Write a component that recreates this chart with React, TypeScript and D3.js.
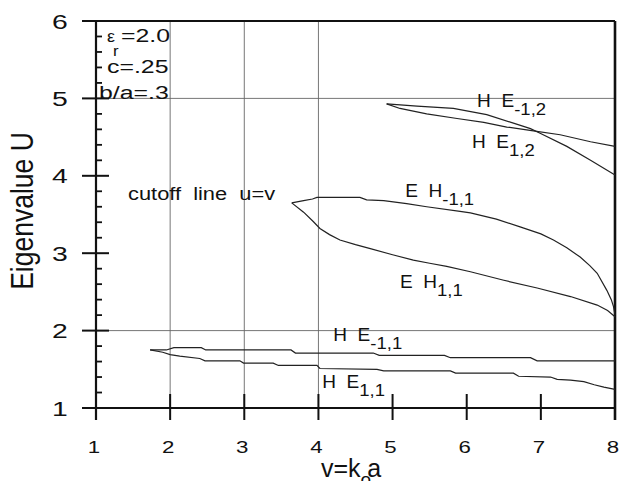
import React from "react";
import * as d3 from "d3";

const W = 622;
const H = 481;

// axis ticks and grid
const xTicks = [1, 2, 3, 4, 5, 6, 7, 8];
const yTicks = [1, 2, 3, 4, 5, 6];
const xGrid = [2, 3, 4];
const yGrid = [2, 5];

// curves as [v, U]
const ehMinus11 = [
  [3.64, 3.65], [3.8, 3.68], [3.92, 3.7], [3.98, 3.72], [4.56, 3.72], [4.65, 3.69],
  [4.88, 3.68], [5.19, 3.64], [5.46, 3.6], [5.91, 3.54], [6.05, 3.52], [6.4, 3.44],
  [6.72, 3.34], [7.0, 3.25], [7.17, 3.17], [7.35, 3.07], [7.53, 2.95], [7.66, 2.84],
  [7.76, 2.74], [7.89, 2.52], [7.95, 2.4], [7.98, 2.31], [8.0, 2.2],
];
const eh11 = [
  [3.64, 3.65], [3.8, 3.53], [3.93, 3.41], [4.02, 3.32], [4.15, 3.24], [4.29, 3.17],
  [4.5, 3.11], [4.7, 3.06], [5.0, 2.98], [5.28, 2.91], [5.5, 2.87], [5.73, 2.83],
  [6.05, 2.76], [6.5, 2.65], [6.95, 2.55], [7.4, 2.44], [7.76, 2.33], [7.9, 2.26],
  [8.0, 2.18],
];
const he12 = [
  [4.92, 4.93], [5.33, 4.9], [5.82, 4.87], [6.27, 4.79], [6.63, 4.68], [6.86, 4.61],
  [6.99, 4.55], [7.35, 4.38], [7.67, 4.2], [8.0, 4.01],
];
const heMinus12 = [
  [4.92, 4.93], [5.1, 4.87], [5.46, 4.8], [5.87, 4.74], [6.23, 4.69], [6.54, 4.63],
  [6.9, 4.58], [7.26, 4.53], [7.67, 4.44], [8.0, 4.38],
];
const heMinus11 = [
  [1.73, 1.75], [1.95, 1.75], [2.05, 1.78], [2.42, 1.78], [2.48, 1.75], [3.63, 1.75],
  [3.69, 1.71], [4.74, 1.71], [4.82, 1.68], [5.7, 1.68], [5.78, 1.65], [6.86, 1.65],
  [6.95, 1.61], [8.0, 1.61],
];
const he11 = [
  [1.73, 1.75], [1.9, 1.72], [2.0, 1.69], [2.13, 1.67], [2.4, 1.64], [2.47, 1.61],
  [2.94, 1.61], [2.99, 1.58], [3.39, 1.58], [3.46, 1.55], [3.98, 1.55], [4.02, 1.51],
  [4.79, 1.5], [4.88, 1.48], [5.78, 1.48], [5.85, 1.45], [6.63, 1.45], [6.7, 1.41],
  [7.13, 1.4], [7.22, 1.37], [7.4, 1.36], [7.58, 1.34], [7.72, 1.3], [7.85, 1.27],
  [8.0, 1.24],
];
const curves = [ehMinus11, eh11, he12, heMinus12, heMinus11, he11];

// curve labels: main text, subscript, anchor in data coords
const curveLabels = [
  { main: "H  E", sub: "-1,2", v: 6.14, u: 4.89 },
  { main: "H  E", sub: "1,2", v: 6.07, u: 4.36 },
  { main: "E  H", sub: "-1,1", v: 5.17, u: 3.73 },
  { main: "E  H", sub: "1,1", v: 5.1, u: 2.55 },
  { main: "H  E", sub: "-1,1", v: 4.2, u: 1.86 },
  { main: "H  E", sub: "1,1", v: 4.05, u: 1.26 },
];

const FONT = "'Liberation Sans', Arial, Helvetica, sans-serif";
const INK = "#111";

// the scanned type is wider than it is tall, so stretch it horizontally
function ST({ x, y, sx = 1, size, anchor = "start", children }: any) {
  return (
    <text
      transform={`translate(${x},${y}) scale(${sx},1)`}
      fontSize={size}
      textAnchor={anchor}
      fill={INK}
      style={{ whiteSpace: "pre" }}
    >
      {children}
    </text>
  );
}

export default function App() {
  const x = d3.scaleLinear().domain([1, 8]).range([96, 615]);
  const y = d3.scaleLinear().domain([1, 6]).range([408, 21]);
  const line = d3
    .line<number[]>()
    .x((d) => x(d[0]))
    .y((d) => y(d[1]));
  const yMinor = d3.range(1, 6, 0.2).filter((v) => Math.abs(v - Math.round(v)) > 0.01);

  return (
    <svg
      width={W}
      height={H}
      style={{ position: "absolute", left: 0, top: 0, background: "#fff" }}
      fontFamily={FONT}
    >
      {/* grid */}
      {xGrid.map((v) => (
        <line key={"gx" + v} x1={x(v)} x2={x(v)} y1={y(6)} y2={y(1)} stroke="#666" strokeWidth={0.9} />
      ))}
      {yGrid.map((v) => (
        <line key={"gy" + v} x1={x(1)} x2={x(8)} y1={y(v)} y2={y(v)} stroke="#666" strokeWidth={0.9} />
      ))}

      {/* frame */}
      <line x1={82} x2={x(8)} y1={y(6)} y2={y(6)} stroke={INK} strokeWidth={2.2} />
      <line x1={82} x2={x(8)} y1={y(1)} y2={y(1)} stroke={INK} strokeWidth={2.2} />
      <line x1={x(1)} x2={x(1)} y1={y(6)} y2={y(1) + 12} stroke={INK} strokeWidth={2.2} />
      <line x1={x(8)} x2={x(8)} y1={y(6)} y2={y(1) + 12} stroke={INK} strokeWidth={2.6} />

      {/* y ticks */}
      {yTicks.map((v) => (
        <g key={"yt" + v}>
          <line x1={82} x2={109} y1={y(v)} y2={y(v)} stroke={INK} strokeWidth={2} />
          <ST x={60} y={y(v) + 7.5} sx={1.35} size={21} anchor="middle">
            {v}
          </ST>
        </g>
      ))}
      {yMinor.map((v) => (
        <line key={"ym" + v} x1={x(1)} x2={x(1) + 6} y1={y(v)} y2={y(v)} stroke={INK} strokeWidth={1.8} />
      ))}

      {/* x ticks */}
      {xTicks.map((v) => (
        <g key={"xt" + v}>
          <line x1={x(v)} x2={x(v)} y1={y(1) - 14} y2={y(1) + 12} stroke={INK} strokeWidth={2} />
          <ST x={x(v) - 2} y={453} sx={1.35} size={16.5} anchor="middle">
            {v}
          </ST>
        </g>
      ))}

      {/* curves */}
      {curves.map((c, i) => (
        <path key={"c" + i} d={line(c) || ""} fill="none" stroke="#222" strokeWidth={1.2} />
      ))}

      {/* curve labels */}
      {curveLabels.map((l, i) => (
        <ST key={"l" + i} x={x(l.v)} y={y(l.u)} sx={1.09} size={17.5}>
          {l.main}
          <tspan dy={8} fontSize={17}>
            {l.sub}
          </tspan>
        </ST>
      ))}

      {/* parameters */}
      <ST x={107} y={41.5} sx={1.05} size={17}>ε</ST>
      <ST x={121} y={41.5} sx={1.38} size={18}>=2.0</ST>
      <ST x={113} y={56} sx={1.2} size={14}>r</ST>
      <ST x={107} y={72.5} sx={1.38} size={18}>c=.25</ST>
      <ST x={99} y={99} sx={1.38} size={18}>b/a=.3</ST>
      <ST x={128} y={200} sx={1.15} size={19}>
        cutoff  line  u=v
      </ST>

      {/* axis titles */}
      <text x={321} y={477} fontSize={25} fill={INK}>
        v=k
        <tspan dy={9} fontSize={19}>o</tspan>
        <tspan dy={-9} dx={-4}>a</tspan>
      </text>
      <text
        transform="translate(33,211) scale(1.2,1) rotate(-90)"
        fontSize={26.5}
        textAnchor="middle"
        fill={INK}
      >
        Eigenvalue U
      </text>
    </svg>
  );
}
